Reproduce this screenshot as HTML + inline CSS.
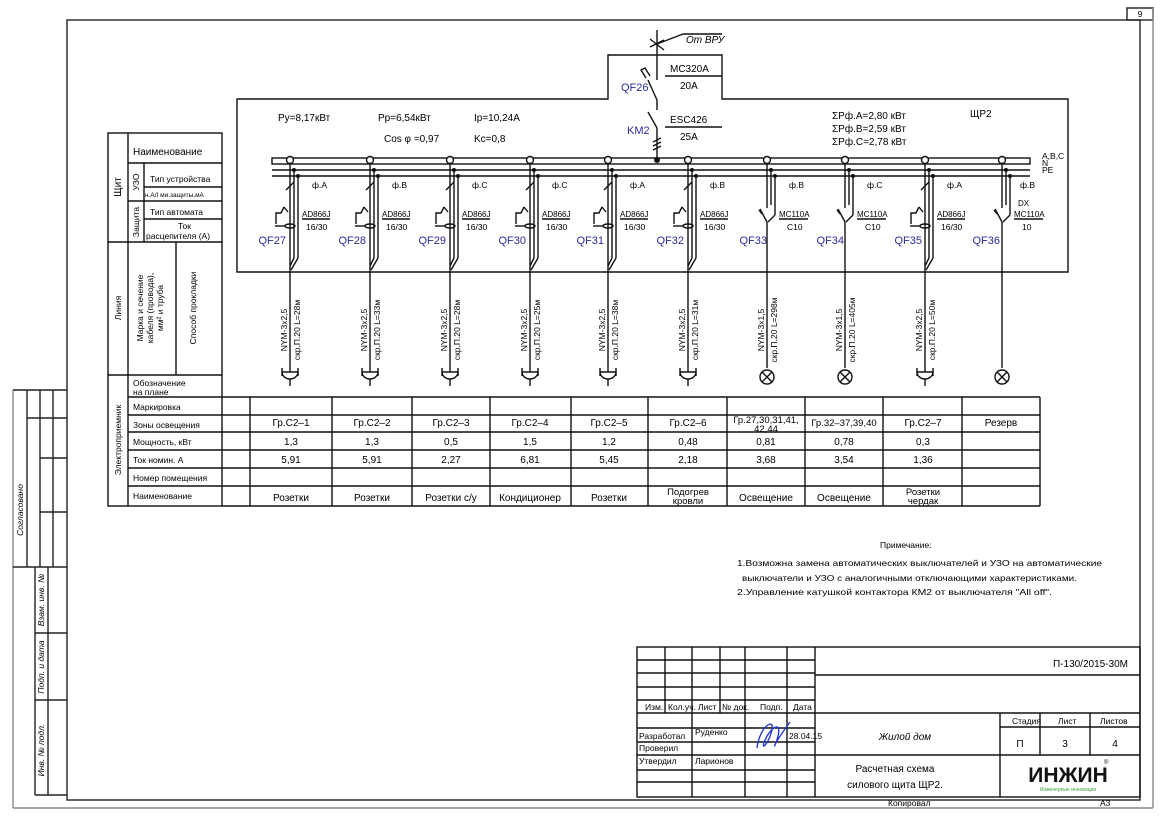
<!DOCTYPE html>
<html><head><meta charset="utf-8"><style>
html,body{margin:0;padding:0;background:#fff;}
svg{display:block;font-family:"Liberation Sans","DejaVu Sans",sans-serif;}
svg line,svg rect,svg path,svg circle,svg ellipse{stroke-width:1.4;}
.t{font-size:10px;fill:#000;}
.s{font-size:8.5px;fill:#000;}
.b{fill:#2a2a9a;font-size:11px;}
</style></head><body>
<svg width="1166" height="818" viewBox="0 0 1166 818" xmlns="http://www.w3.org/2000/svg">
<defs>
<g id="rcd" stroke="#111" fill="none" stroke-width="1">
<circle cx="0" cy="160" r="3.5" fill="#fff"/>
<line x1="0" y1="164" x2="0" y2="258"/>
<line x1="0" y1="258" x2="0" y2="272"/>
<line x1="8" y1="176" x2="8" y2="258"/><line x1="8" y1="258" x2="1" y2="270"/>
<line x1="4" y1="170" x2="4" y2="258"/><line x1="4" y1="258" x2="0" y2="266"/>
<circle cx="4" cy="170" r="1.3" fill="#111"/><circle cx="8" cy="176" r="1.3" fill="#111"/>
<line x1="-4" y1="190" x2="4" y2="182"/>
<path d="M-14 224 V213 H-9 L-6 207 M-6 207 L-2 212"/>
<ellipse cx="0" cy="226" rx="5" ry="2"/>
<line x1="-15" y1="226" x2="-5" y2="226"/>
</g>
<g id="mcb" stroke="#111" fill="none" stroke-width="1">
<circle cx="0" cy="160" r="3.5" fill="#fff"/>
<line x1="0" y1="164" x2="0" y2="208"/>
<line x1="8" y1="176" x2="8" y2="215"/><line x1="8" y1="215" x2="1" y2="222"/>
<circle cx="8" cy="176" r="1.3" fill="#111"/><circle cx="4" cy="170" r="1.3" fill="#111"/>
<line x1="4" y1="170" x2="4" y2="205"/>
<line x1="0" y1="222" x2="-7" y2="209"/>
<line x1="-8" y1="210" x2="-5" y2="214"/>
<line x1="0" y1="222" x2="0" y2="368"/>
</g>
<g id="sock" stroke="#111" fill="none" stroke-width="1.2">
<line x1="0" y1="272" x2="0" y2="372"/>
<path d="M-8 372 H8 A8 7 0 0 1 -8 372"/>
<line x1="0" y1="379" x2="0" y2="386"/>
<line x1="-8" y1="368" x2="-8" y2="376"/><line x1="8" y1="368" x2="8" y2="376"/>
</g>
<g id="lamp" stroke="#111" fill="none" stroke-width="1.2">
<circle cx="0" cy="377" r="7"/>
<line x1="-5" y1="372" x2="5" y2="382"/><line x1="5" y1="372" x2="-5" y2="382"/>
</g>
</defs>

<!-- frame -->
<g stroke="#222" fill="none" stroke-width="1.2">
<rect x="67" y="20" width="1073" height="780"/>
<rect x="1127" y="8" width="26" height="12"/>
<line x1="13" y1="808" x2="1153" y2="808" stroke="#888"/>
<line x1="1153" y1="8" x2="1153" y2="808" stroke="#888"/>
<line x1="13" y1="390" x2="13" y2="808" stroke="#888"/>
<line x1="13" y1="390" x2="67" y2="390"/>
<line x1="27" y1="390" x2="27" y2="567"/><line x1="40" y1="390" x2="40" y2="567"/><line x1="53" y1="390" x2="53" y2="567"/>
<line x1="27" y1="418" x2="67" y2="418"/><line x1="40" y1="458" x2="67" y2="458"/><line x1="40" y1="512" x2="67" y2="512"/>
<line x1="13" y1="567" x2="67" y2="567"/>
<line x1="35" y1="567" x2="35" y2="795"/><line x1="48" y1="567" x2="48" y2="795"/>
<line x1="35" y1="633" x2="67" y2="633"/><line x1="35" y1="700" x2="67" y2="700"/><line x1="35" y1="795" x2="67" y2="795"/>
</g>
<text x="1140" y="17" class="s" text-anchor="middle" font-size="8">9</text>
<g class="s" font-size="8" font-style="italic">
<text transform="translate(23,510) rotate(-90)" text-anchor="middle">Согласовано</text>
<text transform="translate(44,600) rotate(-90)" text-anchor="middle">Взам. инв. №</text>
<text transform="translate(44,667) rotate(-90)" text-anchor="middle">Подп. и дата</text>
<text transform="translate(44,750) rotate(-90)" text-anchor="middle">Инв. № подл.</text>
</g>

<!-- panel box -->
<path d="M237 99 H608 V55 H722 V99 H1068 V272 H237 Z" fill="none" stroke="#111" stroke-width="1.2"/>
<!-- bus -->
<rect x="272" y="158" width="758" height="6" fill="none" stroke="#111" stroke-width="1"/>
<line x1="272" y1="170" x2="1030" y2="170" stroke="#111" stroke-width="1.2"/>
<line x1="272" y1="176" x2="1030" y2="176" stroke="#111" stroke-width="1.2"/>
<text x="1042" y="159" class="s" font-size="7">A,B,C</text>
<text x="1042" y="166" class="s" font-size="7">N</text>
<text x="1042" y="173" class="s" font-size="7">PE</text>

<!-- input -->
<g stroke="#111" fill="none" stroke-width="1.1">
<line x1="657" y1="30" x2="657" y2="80"/>
<line x1="650" y1="47" x2="664" y2="40"/><line x1="650" y1="39" x2="664" y2="50"/>
<line x1="657" y1="44" x2="683" y2="34"/><line x1="683" y1="34" x2="722" y2="34"/>
<line x1="657" y1="100" x2="648" y2="80"/>
<path d="M646 78 L641 70 L645 68 L650 76"/>
<line x1="657" y1="100" x2="657" y2="110"/>
<line x1="657" y1="128" x2="648" y2="112"/>
<line x1="657" y1="128" x2="657" y2="160"/>
<line x1="653" y1="142" x2="661" y2="138"/><line x1="653" y1="146" x2="661" y2="142"/><line x1="653" y1="150" x2="661" y2="146"/>
<line x1="665" y1="76" x2="722" y2="76"/>
<line x1="665" y1="127" x2="722" y2="127"/>
</g>
<circle cx="657" cy="160" r="3" fill="#111"/>
<text x="686" y="43" class="t" font-style="italic">От ВРУ</text>
<text x="670" y="72" class="t">MC320A</text><text x="680" y="89" class="t">20A</text>
<text x="670" y="123" class="t">ESC426</text><text x="680" y="140" class="t">25A</text>
<text x="621" y="91" class="b">QF26</text><text x="627" y="134" class="b">KM2</text>

<g class="t" font-size="11.5">
<text x="278" y="121">Py=8,17кВт</text>
<text x="378" y="121">Pp=6,54кВт</text>
<text x="474" y="121">Ip=10,24A</text>
<text x="384" y="142">Cos φ =0,97</text>
<text x="474" y="142">Kc=0,8</text>
<text x="832" y="119">ΣPф.A=2,80  кВт</text>
<text x="832" y="132">ΣPф.B=2,59  кВт</text>
<text x="832" y="145">ΣPф.C=2,78  кВт</text>
<text x="970" y="117">ЩР2</text>
</g>

<!-- feeders -->
<use href="#rcd" x="290"/><use href="#rcd" x="370"/><use href="#rcd" x="450"/><use href="#rcd" x="530"/><use href="#rcd" x="608"/><use href="#rcd" x="688"/>
<use href="#mcb" x="767"/><use href="#mcb" x="845"/><use href="#rcd" x="925"/><use href="#mcb" x="1002"/>
<use href="#sock" x="290"/><use href="#sock" x="370"/><use href="#sock" x="450"/><use href="#sock" x="530"/><use href="#sock" x="608"/><use href="#sock" x="688"/><use href="#sock" x="925"/>
<use href="#lamp" x="767"/><use href="#lamp" x="845"/><use href="#lamp" x="1002"/>
<g stroke="#111" stroke-width="0.8">
<line x1="302" y1="219" x2="330" y2="219"/><line x1="382" y1="219" x2="410" y2="219"/><line x1="462" y1="219" x2="490" y2="219"/><line x1="542" y1="219" x2="570" y2="219"/><line x1="620" y1="219" x2="648" y2="219"/><line x1="700" y1="219" x2="728" y2="219"/><line x1="937" y1="219" x2="965" y2="219"/>
<line x1="779" y1="219" x2="808" y2="219"/><line x1="857" y1="219" x2="886" y2="219"/><line x1="1014" y1="219" x2="1043" y2="219"/>
</g>
<g class="s">
<text x="312" y="188">ф.A</text><text x="392" y="188">ф.B</text><text x="472" y="188">ф.C</text><text x="552" y="188">ф.C</text><text x="630" y="188">ф.A</text><text x="710" y="188">ф.B</text><text x="789" y="188">ф.B</text><text x="867" y="188">ф.C</text><text x="947" y="188">ф.A</text><text x="1020" y="188">ф.B</text>
<text x="302" y="217" font-size="8">AD866J</text><text x="306" y="230">16/30</text>
<text x="382" y="217" font-size="8">AD866J</text><text x="386" y="230">16/30</text>
<text x="462" y="217" font-size="8">AD866J</text><text x="466" y="230">16/30</text>
<text x="542" y="217" font-size="8">AD866J</text><text x="546" y="230">16/30</text>
<text x="620" y="217" font-size="8">AD866J</text><text x="624" y="230">16/30</text>
<text x="700" y="217" font-size="8">AD866J</text><text x="704" y="230">16/30</text>
<text x="937" y="217" font-size="8">AD866J</text><text x="941" y="230">16/30</text>
<text x="779" y="217" font-size="8">MC110A</text><text x="787" y="230">C10</text>
<text x="857" y="217" font-size="8">MC110A</text><text x="865" y="230">C10</text>
<text x="1018" y="206" font-size="8">DX</text>
<text x="1014" y="217" font-size="8">MC110A</text><text x="1022" y="230">10</text>
</g>
<g class="b" text-anchor="end">
<text x="286" y="244">QF27</text><text x="366" y="244">QF28</text><text x="446" y="244">QF29</text><text x="526" y="244">QF30</text><text x="604" y="244">QF31</text><text x="684" y="244">QF32</text><text x="767" y="244">QF33</text><text x="844" y="244">QF34</text><text x="922" y="244">QF35</text><text x="1000" y="244">QF36</text>
</g>
<g class="s" font-size="8" text-anchor="middle">
<text transform="translate(287,330) rotate(-90)">NYM-3x2,5</text><text transform="translate(300,330) rotate(-90)">скр.П.20  L=28м</text>
<text transform="translate(367,330) rotate(-90)">NYM-3x2,5</text><text transform="translate(380,330) rotate(-90)">скр.П.20  L=33м</text>
<text transform="translate(447,330) rotate(-90)">NYM-3x2,5</text><text transform="translate(460,330) rotate(-90)">скр.П.20  L=28м</text>
<text transform="translate(527,330) rotate(-90)">NYM-3x2,5</text><text transform="translate(540,330) rotate(-90)">скр.П.20  L=25м</text>
<text transform="translate(605,330) rotate(-90)">NYM-3x2,5</text><text transform="translate(618,330) rotate(-90)">скр.П.20  L=38м</text>
<text transform="translate(685,330) rotate(-90)">NYM-3x2,5</text><text transform="translate(698,330) rotate(-90)">скр.П.20  L=31м</text>
<text transform="translate(764,330) rotate(-90)">NYM-3x1,5</text><text transform="translate(777,330) rotate(-90)">скр.П.20  L=298м</text>
<text transform="translate(842,330) rotate(-90)">NYM-3x1,5</text><text transform="translate(855,330) rotate(-90)">скр.П.20  L=405м</text>
<text transform="translate(922,330) rotate(-90)">NYM-3x2,5</text><text transform="translate(935,330) rotate(-90)">скр.П.20  L=50м</text>
</g>

<!-- left header table -->
<g stroke="#111" fill="none" stroke-width="1.2">
<rect x="108" y="133" width="114" height="373"/>
<line x1="128" y1="133" x2="128" y2="506"/>
<line x1="128" y1="163" x2="222" y2="163"/>
<line x1="144" y1="163" x2="144" y2="242"/>
<line x1="144" y1="187" x2="222" y2="187"/>
<line x1="128" y1="201" x2="222" y2="201"/>
<line x1="144" y1="219" x2="222" y2="219"/>
<line x1="108" y1="242" x2="222" y2="242"/>
<line x1="176" y1="242" x2="176" y2="375"/>
<line x1="108" y1="375" x2="222" y2="375"/>
<line x1="128" y1="397" x2="1040" y2="397"/>
<line x1="128" y1="415" x2="1040" y2="415"/>
<line x1="128" y1="432" x2="1040" y2="432"/>
<line x1="128" y1="450" x2="1040" y2="450"/>
<line x1="128" y1="468" x2="1040" y2="468"/>
<line x1="128" y1="486" x2="1040" y2="486"/>
<line x1="222" y1="506" x2="1040" y2="506"/>
<line x1="250" y1="397" x2="250" y2="506"/><line x1="332" y1="397" x2="332" y2="506"/><line x1="412" y1="397" x2="412" y2="506"/><line x1="490" y1="397" x2="490" y2="506"/><line x1="571" y1="397" x2="571" y2="506"/><line x1="648" y1="397" x2="648" y2="506"/><line x1="727" y1="397" x2="727" y2="506"/><line x1="805" y1="397" x2="805" y2="506"/><line x1="883" y1="397" x2="883" y2="506"/><line x1="962" y1="397" x2="962" y2="506"/><line x1="1040" y1="397" x2="1040" y2="506"/>
</g>
<g class="s" font-size="9">
<text x="133" y="155" font-size="10">Наименование</text>
<text transform="translate(121,187) rotate(-90)" text-anchor="middle" font-size="10">Щит</text>
<text transform="translate(139,182) rotate(-90)" text-anchor="middle">УЗО</text>
<text transform="translate(139,222) rotate(-90)" text-anchor="middle">Защита</text>
<text x="150" y="182">Тип устройства</text>
<text x="145" y="197" font-size="6.5">н.А/I ми.защиты,мА</text>
<text x="150" y="215">Тип автомата</text>
<text x="178" y="229">Ток</text>
<text x="146" y="239">расцепителя (А)</text>
<text transform="translate(121,308) rotate(-90)" text-anchor="middle">Линия</text>
<text transform="translate(143,308) rotate(-90)" text-anchor="middle">Марка  и сечение</text>
<text transform="translate(153,308) rotate(-90)" text-anchor="middle">кабеля  (провода),</text>
<text transform="translate(163,308) rotate(-90)" text-anchor="middle">мм² и  труба</text>
<text transform="translate(196,308) rotate(-90)" text-anchor="middle">Способ  прокладки</text>
<text transform="translate(121,440) rotate(-90)" text-anchor="middle">Электроприемник</text>
<text x="133" y="386">Обозначение</text><text x="133" y="395">на плане</text>
<text x="133" y="410">Маркировка</text>
<text x="133" y="428">Зоны освещения</text>
<text x="133" y="445">Мощность, кВт</text>
<text x="133" y="463">Ток номин. А</text>
<text x="133" y="481">Номер помещения</text>
<text x="133" y="499">Наименование</text>
</g>
<g class="t" text-anchor="middle">
<text x="291" y="426">Гр.С2–1</text><text x="372" y="426">Гр.С2–2</text><text x="451" y="426">Гр.С2–3</text><text x="530" y="426">Гр.С2–4</text><text x="609" y="426">Гр.С2–5</text><text x="688" y="426">Гр.С2–6</text>
<text x="766" y="423" font-size="9.5">Гр.27,30,31,41,</text><text x="766" y="432" font-size="9.5">42,44</text>
<text x="844" y="426" font-size="9.5">Гр.32–37,39,40</text><text x="923" y="426">Гр.С2–7</text><text x="1001" y="426">Резерв</text>
<text x="291" y="445">1,3</text><text x="372" y="445">1,3</text><text x="451" y="445">0,5</text><text x="530" y="445">1,5</text><text x="609" y="445">1,2</text><text x="688" y="445">0,48</text><text x="766" y="445">0,81</text><text x="844" y="445">0,78</text><text x="923" y="445">0,3</text>
<text x="291" y="463">5,91</text><text x="372" y="463">5,91</text><text x="451" y="463">2,27</text><text x="530" y="463">6,81</text><text x="609" y="463">5,45</text><text x="688" y="463">2,18</text><text x="766" y="463">3,68</text><text x="844" y="463">3,54</text><text x="923" y="463">1,36</text>
<text x="291" y="501">Розетки</text><text x="372" y="501">Розетки</text><text x="451" y="501">Розетки с/у</text><text x="530" y="501">Кондиционер</text><text x="609" y="501">Розетки</text>
<text x="688" y="495" font-size="9.5">Подогрев</text><text x="688" y="504" font-size="9.5">кровли</text>
<text x="766" y="501">Освещение</text><text x="844" y="501">Освещение</text>
<text x="923" y="495" font-size="9.5">Розетки</text><text x="923" y="504" font-size="9.5">чердак</text>
</g>

<!-- notes -->
<g class="s" font-size="9.5">
<text x="880" y="548">Примечание:</text>
<text x="737" y="566" textLength="365" lengthAdjust="spacingAndGlyphs">1.Возможна замена автоматических выключателей и УЗО на автоматические</text>
<text x="742" y="581" textLength="335" lengthAdjust="spacingAndGlyphs">выключатели и УЗО с аналогичными отключающими характеристиками.</text>
<text x="737" y="595" textLength="315" lengthAdjust="spacingAndGlyphs">2.Управление катушкой контактора КМ2 от выключателя "All off".</text>
</g>

<!-- title block -->
<g stroke="#111" fill="none" stroke-width="1.2">
<rect x="637" y="647" width="503" height="150"/>
<line x1="815" y1="647" x2="815" y2="797"/>
<line x1="815" y1="675" x2="1140" y2="675"/>
<line x1="637" y1="713" x2="1140" y2="713"/>
<line x1="815" y1="755" x2="1140" y2="755"/>
<line x1="1000" y1="713" x2="1000" y2="797"/>
<line x1="1040" y1="713" x2="1040" y2="755"/><line x1="1090" y1="713" x2="1090" y2="755"/>
<line x1="1000" y1="727" x2="1140" y2="727"/>
<line x1="665" y1="647" x2="665" y2="713"/><line x1="692" y1="647" x2="692" y2="797"/><line x1="720" y1="647" x2="720" y2="713"/><line x1="745" y1="647" x2="745" y2="797"/><line x1="787" y1="647" x2="787" y2="797"/>
</g>
<g stroke="#111" stroke-width="0.8">
<line x1="637" y1="660" x2="815" y2="660"/><line x1="637" y1="673" x2="815" y2="673"/><line x1="637" y1="687" x2="815" y2="687"/><line x1="637" y1="700" x2="815" y2="700"/>
<line x1="637" y1="728" x2="815" y2="728"/><line x1="637" y1="742" x2="815" y2="742"/><line x1="637" y1="755" x2="815" y2="755"/><line x1="637" y1="770" x2="815" y2="770"/><line x1="637" y1="782" x2="815" y2="782"/>
</g>
<g class="s" font-size="6.5">
<text x="645" y="710">Изм.</text><text x="668" y="710">Кол.уч.</text><text x="698" y="710">Лист</text><text x="722" y="710">№ док.</text><text x="760" y="710">Подп.</text><text x="793" y="710">Дата</text>
<text x="639" y="739">Разработал</text><text x="695" y="735">Руденко</text><text x="789" y="739">28.04.15</text>
<text x="639" y="751">Проверил</text>
<text x="639" y="764">Утвердил</text><text x="695" y="764">Ларионов</text>
<text x="1012" y="724">Стадия</text><text x="1058" y="724">Лист</text><text x="1100" y="724">Листов</text>
<text x="888" y="806">Копировал</text><text x="1100" y="806">А3</text>
</g>
<path d="M757 748 C760 725 775 718 772 730 C768 745 760 752 765 740 C770 728 782 720 778 736 C775 750 768 752 790 722" stroke="#2a3ad0" fill="none" stroke-width="1.3"/>
<text x="1128" y="667" class="t" font-size="13" text-anchor="end">П-130/2015-30М</text>
<text x="905" y="740" class="t" font-size="13" text-anchor="middle" font-style="italic">Жилой дом</text>
<text x="1020" y="747" class="t" font-size="13" text-anchor="middle">П</text>
<text x="1065" y="747" class="t" font-size="13" text-anchor="middle">3</text>
<text x="1115" y="747" class="t" font-size="13" text-anchor="middle">4</text>
<text x="895" y="772" class="t" font-size="12" text-anchor="middle">Расчетная схема</text>
<text x="895" y="788" class="t" font-size="12" text-anchor="middle">силового щита ЩР2.</text>
<text x="1068" y="782" font-size="21" font-weight="bold" fill="#111" text-anchor="middle">ИНЖИН</text>
<text x="1068" y="791" font-size="5" fill="#3a9a3a" text-anchor="middle">Инженерные инновации</text>
<text x="1104" y="764" font-size="6" fill="#111">®</text>
</svg>
</body></html>
